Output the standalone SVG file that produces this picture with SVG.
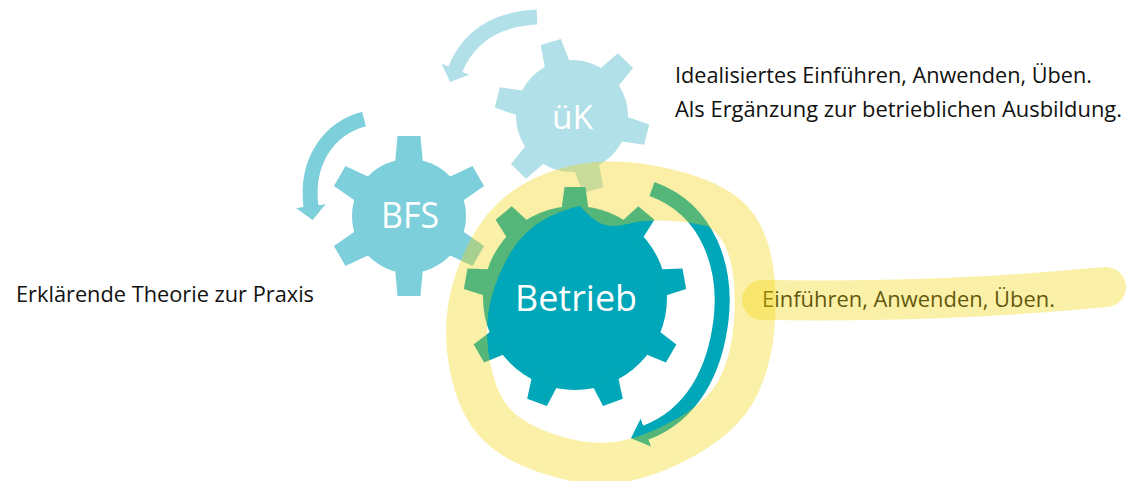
<svg xmlns="http://www.w3.org/2000/svg" width="1126" height="481" viewBox="0 0 1126 481">
<defs>
<style>
.lbl{font-family:"Open Sans","Noto Sans","Liberation Sans",sans-serif;fill:#ffffff}
.txt{font-family:"Open Sans","Noto Sans","Liberation Sans",sans-serif;font-size:22px;fill:#111111}
.arrow{fill:none;stroke-width:15;stroke-linecap:butt}
.hl{fill:none;stroke:#f4d406;stroke-linecap:round;stroke-linejoin:round}
</style>
<polygon id="toothL" points="-14,-85 -10.5,-111 10.5,-111 14,-85"/>
<polygon id="toothS" points="-14,-52 -11.5,-80 11.5,-80 14,-52"/>
<polygon id="toothU" points="-13,-50 -10.5,-77 10.5,-77 13,-50"/>
<marker id="headTeal" markerUnits="userSpaceOnUse" viewBox="0 0 16 30" markerWidth="16" markerHeight="30" refX="1" refY="15" orient="auto"><path d="M0,0 L16,15 L0,30 Z" fill="#00a7b8"/></marker>
<marker id="headMid" markerUnits="userSpaceOnUse" viewBox="0 0 14 30" markerWidth="14" markerHeight="30" refX="1" refY="15" orient="auto"><path d="M0,0 L14,15 L0,30 Z" fill="#7dcfdb"/></marker>
<marker id="headLight" markerUnits="userSpaceOnUse" viewBox="0 0 14 30" markerWidth="14" markerHeight="30" refX="1" refY="15" orient="auto"><path d="M0,0 L14,15 L0,30 Z" fill="#b2e0e8"/></marker>
</defs>
<rect width="1126" height="481" fill="#ffffff"/>

<g id="node-uek">
<g transform="translate(572,116)" fill="#b2e0e8">
<circle r="56"/>
<use href="#toothU" transform="rotate(-16)"/>
<use href="#toothU" transform="rotate(44)"/>
<use href="#toothU" transform="rotate(104)"/>
<use href="#toothU" transform="rotate(164)"/>
<use href="#toothU" transform="rotate(224)"/>
<use href="#toothU" transform="rotate(284)"/>
</g>
<text class="lbl" x="552" y="129" font-size="32" textLength="41" lengthAdjust="spacingAndGlyphs">üK</text>
</g>

<g id="node-bfs">
<g transform="translate(409,216)" fill="#7dcfdb">
<circle r="57"/>
<use href="#toothS"/>
<use href="#toothS" transform="rotate(60)"/>
<use href="#toothS" transform="rotate(120)"/>
<use href="#toothS" transform="rotate(180)"/>
<use href="#toothS" transform="rotate(240)"/>
<use href="#toothS" transform="rotate(300)"/>
</g>
<text class="lbl" x="381" y="227.5" font-size="36" textLength="58" lengthAdjust="spacingAndGlyphs">BFS</text>
</g>

<g id="node-betrieb">
<g transform="translate(575,298)" fill="#00a7b8">
<circle r="92"/>
<use href="#toothL"/>
<use href="#toothL" transform="rotate(40)"/>
<use href="#toothL" transform="rotate(80)"/>
<use href="#toothL" transform="rotate(120)"/>
<use href="#toothL" transform="rotate(160)"/>
<use href="#toothL" transform="rotate(200)"/>
<use href="#toothL" transform="rotate(240)"/>
<use href="#toothL" transform="rotate(280)"/>
<use href="#toothL" transform="rotate(320)"/>
</g>
<text class="lbl" x="515" y="311" font-size="36" textLength="122" lengthAdjust="spacingAndGlyphs">Betrieb</text>
</g>

<g id="connectors">
<path class="arrow" stroke="#b2e0e8" d="M537,17 Q475,20 455,70" marker-end="url(#headLight)"/>
<path class="arrow" stroke="#7dcfdb" d="M364,119 C330,128 305,160 311,207" marker-end="url(#headMid)"/>
<path class="arrow" stroke="#00a7b8" d="M652,189 C710,210 727,270 721,320 C715,370 693,415 645,433" marker-end="url(#headTeal)"/>
</g>

<g id="texts">
<text class="txt" x="675" y="83" textLength="417" lengthAdjust="spacingAndGlyphs">Idealisiertes Einführen, Anwenden, Üben.</text>
<text class="txt" x="675" y="117" textLength="447" lengthAdjust="spacingAndGlyphs">Als Ergänzung zur betrieblichen Ausbildung.</text>
<text class="txt" x="16" y="302" textLength="298" lengthAdjust="spacingAndGlyphs">Erklärende Theorie zur Praxis</text>
<text class="txt" x="762" y="307" textLength="293" lengthAdjust="spacingAndGlyphs">Einführen, Anwenden, Üben.</text>
</g>

<g id="highlight-ring" opacity="0.35">
<path class="hl" stroke-width="41" d="M608,182 C644.2,181.5 703.2,194.3 728,216 C752.8,237.7 756,279.7 755,312 C754,344.3 746.5,384.8 722,410 C697.5,435.2 647.5,460.5 610,463 C572.5,465.5 520.8,448.8 497,425 C473.2,401.2 464.7,354.3 467,320 C469.3,285.7 487.5,242 511,219 C534.5,196 571.8,182.5 608,182 Z"/>
<path fill="#f4d406" d="M572,196 C580,206 588,216 598,222 C608,228 620,226 632,223 C650,219 680,220 706,226 L712,205 L650,192 L600,190 Z"/>
</g>
<g id="highlight-bar" opacity="0.35">
<path class="hl" stroke-width="40" d="M762,300 C900,302 1000,297 1106,287"/>
</g>
</svg>
